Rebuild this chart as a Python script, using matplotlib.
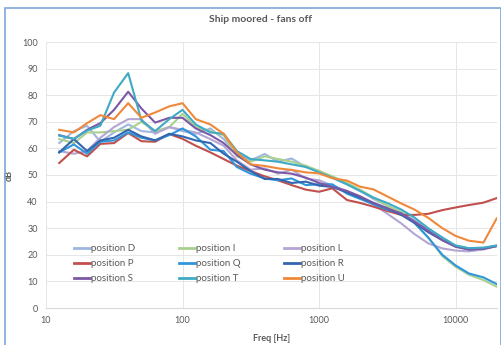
import matplotlib
matplotlib.use("Agg")
import matplotlib.pyplot as plt
from matplotlib.patches import Rectangle

freqs = [12.5, 16, 20, 25, 31.5, 40, 50, 63, 80, 100, 125, 160, 200, 250, 315, 400, 500,
         630, 800, 1000, 1250, 1600, 2000, 2500, 3150, 4000, 5000, 6300, 8000, 10000,
         12500, 16000, 20000]

pos_D = [62, 66.5, 68.5, 62.5, 66, 69, 66.5, 66, 68, 66.5, 65.5, 67.5, 63.5, 58, 55.5, 57.9, 55,
         56.2, 53, 51.5, 49, 46.5, 44, 41, 38.5, 36, 33, 29.5, 26, 23.5, 22.3, 22.5, 23.5]
pos_I = [63.5, 62, 66, 66, 66.5, 67, 70, 66.5, 68, 73, 68, 66.5, 65, 57, 55, 57, 56,
         55, 53.5, 51.5, 49.5, 47, 44.5, 41.5, 38.5, 36, 32, 26.5, 19.5, 15.5, 12.5, 10.5, 8]
pos_L = [59, 58, 59, 64, 68, 71, 71, 65.5, 68, 67, 66, 63.5, 61, 55.5, 52, 52.5, 50.5,
         52, 48.7, 48, 46, 44, 41.5, 39, 35.5, 31.8, 27.8, 24.3, 22.4, 21.6, 21.3, 22, 23.3]
pos_P = [54.5, 59.5, 57, 61.7, 62, 65.8, 62.7, 62.5, 65.4, 63.6, 61, 58.5, 56, 53.5, 51.5, 49.5, 48,
         46.2, 44.5, 43.7, 45, 40.6, 39.5, 38.1, 36.5, 35, 35, 35.4, 36.8, 37.8, 38.7, 39.6, 41.3]
pos_Q = [58.5, 61.5, 58, 62.5, 63, 66, 64, 63, 65, 67.5, 64.5, 59.5, 59, 53, 50.5, 48.7, 48,
         48.7, 46.2, 46.5, 46.5, 43, 41, 39, 37, 35.5, 32, 26.5, 20, 16, 13, 11.5, 9]
pos_R = [58.5, 63.5, 59, 63, 64, 67, 64.5, 63, 65.5, 64.5, 63, 62, 58, 55, 51.5, 48.5, 48.5,
         47, 47.5, 46, 45.5, 43.5, 41.5, 39.5, 37.5, 35, 32, 28.5, 25.5, 23.2, 22, 22.3, 23.3]
pos_S = [65, 63.5, 67, 69.5, 74.5, 81.3, 75, 69.7, 71.5, 71.5, 67.5, 65, 62, 57.5, 54, 52, 51,
         50.5, 49, 47, 45.5, 44, 42, 39.5, 37.5, 35.5, 32.5, 29, 25.5, 23, 22, 22.3, 23.3]
pos_T = [64.8, 63.6, 66.7, 68.5, 81, 88.3, 70.5, 66.5, 71, 74.5, 69, 66, 65.5, 59, 56, 55.5, 55,
         54, 53, 51, 49, 46.5, 44, 41.5, 39.5, 37, 34, 30, 26.5, 23.5, 22.5, 22.7, 23.5]
pos_U = [67, 66, 69.5, 72.5, 71, 77, 71.5, 73.5, 75.8, 77, 71, 69, 65.5, 58.5, 54, 53.4, 52.5,
         51.9, 51, 50.6, 48.8, 47.9, 45.6, 44.6, 42, 39.3, 37, 33.9, 30, 27.1, 25.3, 24.6, 33.7]

labels = ["position D", "position I", "position L", "position P", "position Q",
          "position R", "position S", "position T", "position U"]
series = [pos_D, pos_I, pos_L, pos_P, pos_Q, pos_R, pos_S, pos_T, pos_U]
colors = ["#9fb6e0", "#a9d18e", "#b4a5d3", "#c0504d", "#2f96dc",
          "#3466b0", "#7b58a6", "#3eaac4", "#f0883a"]

title = "Ship moored - fans off"
xticks = [10, 100, 1000, 10000]
yticks = list(range(0, 101, 10))

plt.rcParams['font.family'] = ['Lato', 'DejaVu Sans']
fig = plt.figure(figsize=(5.02, 3.45), dpi=100)
W, H = 502, 345
ax = fig.add_axes([46 / W, 1 - 308 / H, (496.7 - 46) / W, (308 - 42) / H])

lines = []
for vals, lab, col in zip(series, labels, colors):
    ln, = ax.plot(freqs, vals, color=col, lw=1.5, label=lab, solid_joinstyle='round')
    lines.append(ln)

ax.set_xscale('log')
ax.set_xlim(10, 20000)
ax.set_ylim(0, 100)
ax.set_xticks(xticks)
ax.set_xticklabels([str(t) for t in xticks])
ax.xaxis.set_minor_locator(matplotlib.ticker.NullLocator())
ax.set_yticks(yticks)
ax.grid(True, color="#e6e6e6", lw=0.7)
ax.set_axisbelow(True)
for s in ['top', 'right', 'left']:
    ax.spines[s].set_visible(False)
ax.spines['bottom'].set_color("#d9d9d9")
ax.tick_params(length=0, labelsize=6.5, colors="#595959", pad=6)
ax.set_xlabel("Freq [Hz]", fontsize=6.5, fontweight='bold', color="#595959", labelpad=6)
ax.set_ylabel("dB", fontsize=6.5, fontweight='bold', color="#595959", labelpad=6)
fig.text(261 / W, 1 - 19.5 / H, title, ha='center', va='center',
         fontsize=7.5, fontweight='bold', color="#595959")

# legend: three columns, placed manually
col_x = [74 / W, 179 / W, 284 / W]
for c in range(3):
    hs = [lines[r * 3 + c] for r in range(3)]
    leg = fig.legend(handles=hs, labels=[h.get_label() for h in hs], loc='upper left',
                     bbox_to_anchor=(col_x[c], 1 - 244 / H), frameon=False, fontsize=7,
                     handlelength=1.6, handletextpad=0.15, labelspacing=0.62,
                     borderpad=0, borderaxespad=0)
    for t in leg.get_texts():
        t.set_color("#595959")
    for l in leg.get_lines():
        l.set_linewidth(2.0)

fig.patches.append(Rectangle((5 / W, -0.1), (W - 6) / W, 1.1 - 8 / H, transform=fig.transFigure,
                             fill=False, edgecolor="#7fa7da", lw=1.2))

fig.savefig("out.png", dpi=100)
